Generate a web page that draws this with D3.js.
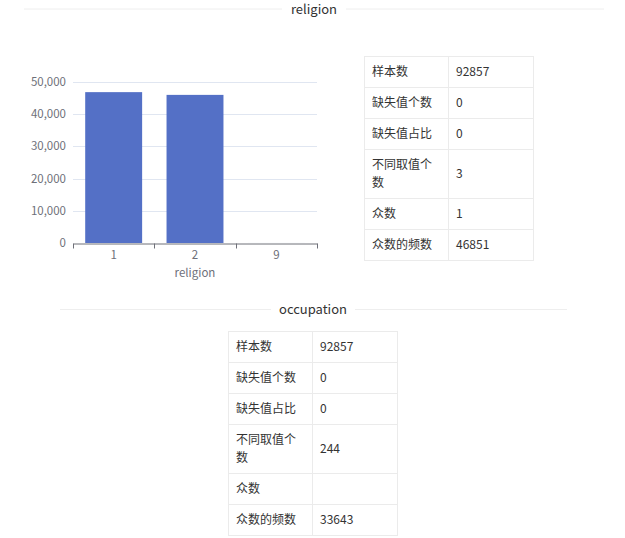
<!DOCTYPE html>
<html><head><meta charset="utf-8">
<script src="https://cdn.jsdelivr.net/npm/d3@7"></script>
<style>
html,body{margin:0;padding:0;background:#fff;}
svg{display:block;font-family:"Noto Sans CJK SC","Noto Sans",sans-serif;}
</style></head>
<body>
<svg id="c" width="625" height="538"></svg>
<script>
const religionCats = ["1","2","9"];
const religionCounts = [46851, 46000, 6];
const yTicks = [0,10000,20000,30000,40000,50000];
const statLabels = ["样本数","缺失值个数","缺失值占比","不同取值个数","众数","众数的频数"];
const religionStats = ["92857","0","0","3","1","46851"];
const occupationStats = ["92857","0","0","244","","33643"];

const svg = d3.select("#c");

function sectionTitle(text, cy, x0, x1, gapL, gapR){
  svg.append("line").attr("x1",x0).attr("x2",gapL).attr("y1",cy).attr("y2",cy).attr("stroke","#eeeeee");
  svg.append("line").attr("x1",gapR).attr("x2",x1).attr("y1",cy).attr("y2",cy).attr("stroke","#eeeeee");
  svg.append("text").attr("x",(gapL+gapR)/2).attr("y",cy+4.5).attr("text-anchor","middle")
    .attr("font-size",13).attr("fill","#333").text(text);
}
sectionTitle("religion", 9, 24, 604, 282, 346);
sectionTitle("occupation", 309.5, 60, 567, 271, 355);

// Bar chart
const x = d3.scaleBand().domain(religionCats).range([73,317]).padding(0);
const y = d3.scaleLinear().domain([0,50000]).range([243,82]);
const g = svg.append("g");
g.selectAll(".grid").data(yTicks.filter(d=>d>0)).join("line")
  .attr("x1",73).attr("x2",317).attr("y1",d=>Math.round(y(d))+0.5).attr("y2",d=>Math.round(y(d))+0.5)
  .attr("stroke","#e0e6f1");
g.selectAll(".yl").data(yTicks).join("text")
  .attr("x",66).attr("y",d=>y(d)+4).attr("text-anchor","end").attr("font-size",11.5)
  .attr("fill","#6e7079").text(d=>d3.format(",")(d));
const bw = x.bandwidth();
g.selectAll(".bar").data(religionCats).join("rect")
  .attr("x",d=>x(d)+bw*0.15).attr("width",bw*0.7)
  .attr("y",(d,i)=>y(religionCounts[i])).attr("height",(d,i)=>y(0)-y(religionCounts[i]))
  .attr("fill","#5470c6");
const xAxis = d3.axisBottom(x).tickSize(0).tickSizeOuter(0);
const ax = svg.append("g").attr("transform","translate(0,243.5)").call(xAxis);
ax.select(".domain").attr("stroke","#6e7079");
ax.selectAll(".tick text").attr("font-size",11.5).attr("fill","#6e7079").attr("dy","0.9em").attr("y",5)
  .attr("font-family","\"Noto Sans CJK SC\",\"Noto Sans\",sans-serif");
const bounds = [...religionCats.map(d=>x(d)), 317];
ax.selectAll(".bt").data(bounds).join("line").attr("class","bt")
  .attr("x1",d=>Math.round(d)+0.5).attr("x2",d=>Math.round(d)+0.5).attr("y1",0).attr("y2",5).attr("stroke","#6e7079");
svg.append("text").attr("x",195).attr("y",277).attr("text-anchor","middle").attr("font-size",11.5)
  .attr("fill","#6e7079").text("religion");

// Tables
function table(x0, xm, x1, y0, values){
  const tg = svg.append("g");
  let yy = y0;
  const maxW = xm - x0 - 16;
  statLabels.forEach((lab,i)=>{
    // wrap label
    const t = tg.append("text").attr("font-size",12).attr("fill","#333");
    let lines = [], cur = "";
    for(const ch of lab){
      t.text(cur+ch);
      if(t.node().getComputedTextLength() > maxW && cur){ lines.push(cur); cur = ch; }
      else cur += ch;
    }
    lines.push(cur);
    t.text(null);
    const h = 13 + 18*lines.length;
    lines.forEach((ln,k)=>{
      t.append("tspan").attr("x",x0+8).attr("y",yy+6.5+18*k+13.5).text(ln);
    });
    tg.append("text").attr("font-size",12).attr("fill","#333").attr("x",xm+8)
      .attr("y",yy+h/2+4.5).text(values[i]);
    tg.append("line").attr("x1",x0).attr("x2",x1).attr("y1",yy+0.5).attr("y2",yy+0.5).attr("stroke","#ebebeb");
    yy += h;
  });
  tg.append("line").attr("x1",x0).attr("x2",x1).attr("y1",yy+0.5).attr("y2",yy+0.5).attr("stroke","#ebebeb");
  [x0,xm,x1].forEach(xx=>tg.append("line").attr("x1",xx+0.5).attr("x2",xx+0.5).attr("y1",y0).attr("y2",yy+1).attr("stroke","#ebebeb"));
}
table(364, 448, 533, 56, religionStats);
table(228, 312, 397, 331, occupationStats);
</script>
</body></html>
